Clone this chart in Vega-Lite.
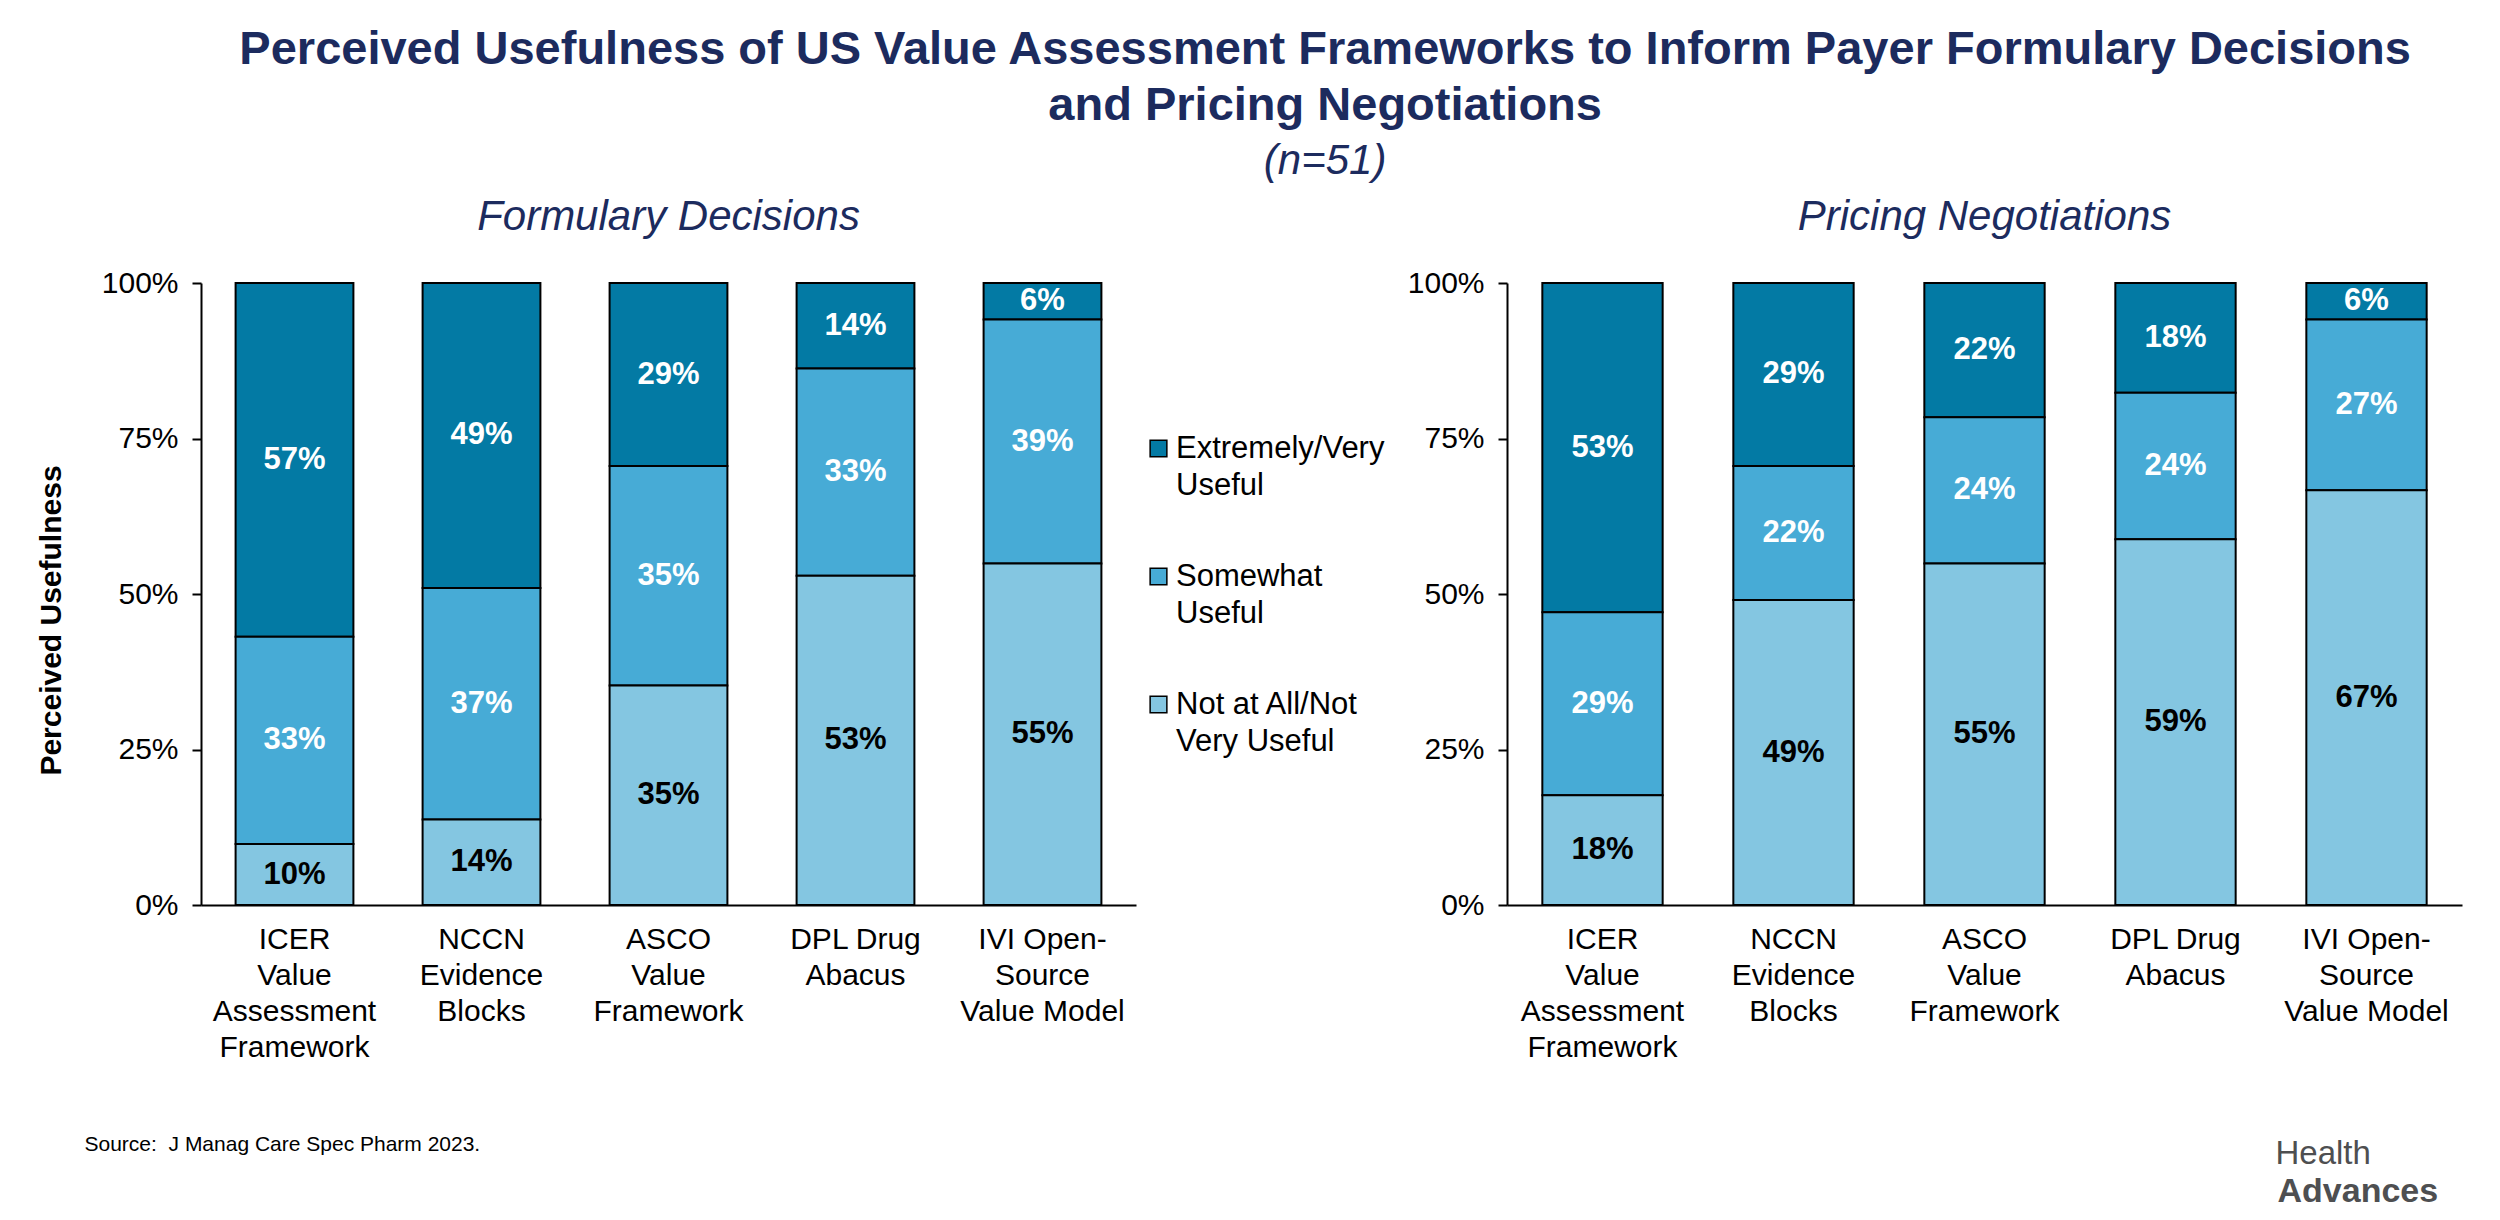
{
  "$schema": "https://vega.github.io/schema/vega-lite/v6.json",
  "background": "white",
  "padding": {"left": 36, "top": 26, "right": 30, "bottom": 5},
  "title": {
    "text": ["Perceived Usefulness of US Value Assessment Frameworks to Inform Payer Formulary Decisions", "and Pricing Negotiations"],
    "subtitle": "(n=51)",
    "fontSize": 47,
    "fontWeight": "bold",
    "fontStyle": "normal",
    "color": "#1c2b5e",
    "lineHeight": 56,
    "subtitleFontSize": 42,
    "subtitleFontStyle": "italic",
    "subtitleColor": "#1c2b5e",
    "subtitlePadding": 11,
    "anchor": "middle",
    "dx": 76,
    "offset": 13
  },
  "data": {
    "values": [
      {"panel": "Formulary Decisions", "framework": "ICER Value Assessment Framework", "level": "Extremely/Very Useful", "k": 3, "share": 0.5686},
      {"panel": "Formulary Decisions", "framework": "ICER Value Assessment Framework", "level": "Somewhat Useful", "k": 2, "share": 0.3333},
      {"panel": "Formulary Decisions", "framework": "ICER Value Assessment Framework", "level": "Not at All/Not Very Useful", "k": 1, "share": 0.0980},
      {"panel": "Formulary Decisions", "framework": "NCCN Evidence Blocks", "level": "Extremely/Very Useful", "k": 3, "share": 0.4902},
      {"panel": "Formulary Decisions", "framework": "NCCN Evidence Blocks", "level": "Somewhat Useful", "k": 2, "share": 0.3725},
      {"panel": "Formulary Decisions", "framework": "NCCN Evidence Blocks", "level": "Not at All/Not Very Useful", "k": 1, "share": 0.1373},
      {"panel": "Formulary Decisions", "framework": "ASCO Value Framework", "level": "Extremely/Very Useful", "k": 3, "share": 0.2941},
      {"panel": "Formulary Decisions", "framework": "ASCO Value Framework", "level": "Somewhat Useful", "k": 2, "share": 0.3529},
      {"panel": "Formulary Decisions", "framework": "ASCO Value Framework", "level": "Not at All/Not Very Useful", "k": 1, "share": 0.3529},
      {"panel": "Formulary Decisions", "framework": "DPL Drug Abacus", "level": "Extremely/Very Useful", "k": 3, "share": 0.1373},
      {"panel": "Formulary Decisions", "framework": "DPL Drug Abacus", "level": "Somewhat Useful", "k": 2, "share": 0.3333},
      {"panel": "Formulary Decisions", "framework": "DPL Drug Abacus", "level": "Not at All/Not Very Useful", "k": 1, "share": 0.5294},
      {"panel": "Formulary Decisions", "framework": "IVI Open-Source Value Model", "level": "Extremely/Very Useful", "k": 3, "share": 0.0588},
      {"panel": "Formulary Decisions", "framework": "IVI Open-Source Value Model", "level": "Somewhat Useful", "k": 2, "share": 0.3922},
      {"panel": "Formulary Decisions", "framework": "IVI Open-Source Value Model", "level": "Not at All/Not Very Useful", "k": 1, "share": 0.5490},
      {"panel": "Pricing Negotiations", "framework": "ICER Value Assessment Framework", "level": "Extremely/Very Useful", "k": 3, "share": 0.5294},
      {"panel": "Pricing Negotiations", "framework": "ICER Value Assessment Framework", "level": "Somewhat Useful", "k": 2, "share": 0.2941},
      {"panel": "Pricing Negotiations", "framework": "ICER Value Assessment Framework", "level": "Not at All/Not Very Useful", "k": 1, "share": 0.1765},
      {"panel": "Pricing Negotiations", "framework": "NCCN Evidence Blocks", "level": "Extremely/Very Useful", "k": 3, "share": 0.2941},
      {"panel": "Pricing Negotiations", "framework": "NCCN Evidence Blocks", "level": "Somewhat Useful", "k": 2, "share": 0.2157},
      {"panel": "Pricing Negotiations", "framework": "NCCN Evidence Blocks", "level": "Not at All/Not Very Useful", "k": 1, "share": 0.4902},
      {"panel": "Pricing Negotiations", "framework": "ASCO Value Framework", "level": "Extremely/Very Useful", "k": 3, "share": 0.2157},
      {"panel": "Pricing Negotiations", "framework": "ASCO Value Framework", "level": "Somewhat Useful", "k": 2, "share": 0.2353},
      {"panel": "Pricing Negotiations", "framework": "ASCO Value Framework", "level": "Not at All/Not Very Useful", "k": 1, "share": 0.5490},
      {"panel": "Pricing Negotiations", "framework": "DPL Drug Abacus", "level": "Extremely/Very Useful", "k": 3, "share": 0.1765},
      {"panel": "Pricing Negotiations", "framework": "DPL Drug Abacus", "level": "Somewhat Useful", "k": 2, "share": 0.2353},
      {"panel": "Pricing Negotiations", "framework": "DPL Drug Abacus", "level": "Not at All/Not Very Useful", "k": 1, "share": 0.5882},
      {"panel": "Pricing Negotiations", "framework": "IVI Open-Source Value Model", "level": "Extremely/Very Useful", "k": 3, "share": 0.0588},
      {"panel": "Pricing Negotiations", "framework": "IVI Open-Source Value Model", "level": "Somewhat Useful", "k": 2, "share": 0.2745},
      {"panel": "Pricing Negotiations", "framework": "IVI Open-Source Value Model", "level": "Not at All/Not Very Useful", "k": 1, "share": 0.6667}
    ]
  },
  "hconcat": [
    {
      "width": 935,
      "height": 622,
      "title": {"text": "Formulary Decisions"},
      "transform": [
        {"filter": "datum.panel == 'Formulary Decisions'"},
        {"stack": "share", "groupby": ["framework"], "sort": [{"field": "k", "order": "ascending"}], "as": ["s0", "s1"]},
        {"calculate": "(datum.s0 + datum.s1) / 2", "as": "mid"}
      ],
      "encoding": {
        "x": {
          "field": "framework", "type": "nominal",
          "sort": ["ICER Value Assessment Framework", "NCCN Evidence Blocks", "ASCO Value Framework", "DPL Drug Abacus", "IVI Open-Source Value Model"],
          "scale": {"paddingInner": 0.37, "paddingOuter": 0.185},
          "axis": {
            "title": "Source:\u00a0 J Manag Care Spec Pharm 2023.",
            "titleFontSize": 21, "titleFontWeight": "normal", "titleColor": "black",
            "titleAnchor": "start", "titleAlign": "left", "titleBaseline": "middle",
            "titleX": -117, "titleY": 239,
            "labelExpr": "datum.value == 'ICER Value Assessment Framework' ? ['ICER','Value','Assessment','Framework'] : datum.value == 'NCCN Evidence Blocks' ? ['NCCN','Evidence','Blocks'] : datum.value == 'ASCO Value Framework' ? ['ASCO','Value','Framework'] : datum.value == 'DPL Drug Abacus' ? ['DPL Drug','Abacus'] : ['IVI Open-','Source','Value Model']"
          }
        }
      },
      "layer": [
        {
          "mark": {"type": "bar", "stroke": "black", "strokeWidth": 2},
          "encoding": {
            "y": {"field": "s0", "type": "quantitative", "scale": {"domain": [0, 1], "nice": false},
              "axis": {"values": [0, 0.25, 0.5, 0.75, 1], "format": ".0%", "title": "Perceived Usefulness", "titleFontSize": 30, "titleFontWeight": "bold", "titleColor": "black", "titlePadding": 35, "titleY": 337}},
            "y2": {"field": "s1"},
            "color": {
              "field": "level", "type": "nominal",
              "scale": {"domain": ["Extremely/Very Useful", "Somewhat Useful", "Not at All/Not Very Useful"], "range": ["#037AA4", "#47ABD6", "#84C6E1"]},
              "legend": {
                "orient": "none", "legendX": 942, "legendY": 150, "title": null,
                "symbolType": "square", "symbolSize": 280, "symbolStrokeColor": "black", "symbolStrokeWidth": 1.5,
                "labelFontSize": 31, "labelColor": "black", "labelLimit": 0, "labelOffset": 2, "rowPadding": 59,
                "labelExpr": "datum.label == 'Extremely/Very Useful' ? ['Extremely/Very','Useful'] : datum.label == 'Somewhat Useful' ? ['Somewhat','Useful'] : ['Not at All/Not','Very Useful']",
                "encode": {"labels": {"update": {"lineHeight": {"value": 37}}}}
              }
            }
          }
        },
        {
          "mark": {"type": "text", "fontSize": 31, "fontWeight": "bold", "baseline": "middle"},
          "encoding": {
            "y": {"field": "mid", "type": "quantitative"},
            "text": {"field": "share", "type": "quantitative", "format": ".0%"},
            "color": {"condition": {"test": "datum.k == 1", "value": "black"}, "value": "white"}
          }
        }
      ]
    },
    {
      "width": 955,
      "height": 622,
      "title": {"text": "Pricing Negotiations"},
      "transform": [
        {"filter": "datum.panel == 'Pricing Negotiations'"},
        {"stack": "share", "groupby": ["framework"], "sort": [{"field": "k", "order": "ascending"}], "as": ["s0", "s1"]},
        {"calculate": "(datum.s0 + datum.s1) / 2", "as": "mid"}
      ],
      "encoding": {
        "x": {
          "field": "framework", "type": "nominal",
          "sort": ["ICER Value Assessment Framework", "NCCN Evidence Blocks", "ASCO Value Framework", "DPL Drug Abacus", "IVI Open-Source Value Model"],
          "scale": {"paddingInner": 0.37, "paddingOuter": 0.185},
          "axis": {
            "title": "Advances",
            "titleFontSize": 34, "titleFontWeight": "bold", "titleColor": "#4e4f51",
            "titleAnchor": "start", "titleAlign": "left", "titleBaseline": "middle",
            "titleX": 770, "titleY": 286,
            "labelExpr": "datum.value == 'ICER Value Assessment Framework' ? ['ICER','Value','Assessment','Framework'] : datum.value == 'NCCN Evidence Blocks' ? ['NCCN','Evidence','Blocks'] : datum.value == 'ASCO Value Framework' ? ['ASCO','Value','Framework'] : datum.value == 'DPL Drug Abacus' ? ['DPL Drug','Abacus'] : ['IVI Open-','Source','Value Model']"
          }
        }
      },
      "layer": [
        {
          "mark": {"type": "bar", "stroke": "black", "strokeWidth": 2},
          "encoding": {
            "y": {"field": "s0", "type": "quantitative", "scale": {"domain": [0, 1], "nice": false},
              "axis": {"values": [0, 0.25, 0.5, 0.75, 1], "format": ".0%",
                "title": "Health", "titleFontSize": 33, "titleFontWeight": "normal", "titleColor": "#4e4f51",
                "titleAngle": 0, "titleAlign": "left", "titleBaseline": "middle", "titleX": 768, "titleY": 870}},
            "y2": {"field": "s1"},
            "color": {
              "field": "level", "type": "nominal",
              "scale": {"domain": ["Extremely/Very Useful", "Somewhat Useful", "Not at All/Not Very Useful"], "range": ["#037AA4", "#47ABD6", "#84C6E1"]},
              "legend": null
            }
          }
        },
        {
          "mark": {"type": "text", "fontSize": 31, "fontWeight": "bold", "baseline": "middle"},
          "encoding": {
            "y": {"field": "mid", "type": "quantitative"},
            "text": {"field": "share", "type": "quantitative", "format": ".0%"},
            "color": {"condition": {"test": "datum.k == 1", "value": "black"}, "value": "white"}
          }
        }
      ]
    }
  ],
  "spacing": 22,
  "resolve": {"legend": {"color": "independent"}},
  "config": {
    "font": "Liberation Sans",
    "view": {"stroke": null},
    "title": {"fontSize": 42, "fontStyle": "italic", "fontWeight": "normal", "color": "#1c2b5e", "offset": 29},
    "axis": {"grid": false, "domainColor": "black", "domainWidth": 2, "tickColor": "black", "tickWidth": 2, "labelColor": "black", "labelFontSize": 30, "labelLineHeight": 36},
    "axisX": {"ticks": false, "labelAngle": 0, "labelPadding": 19, "labelLimit": 0},
    "axisY": {"tickSize": 9, "labelPadding": 14}
  }
}
